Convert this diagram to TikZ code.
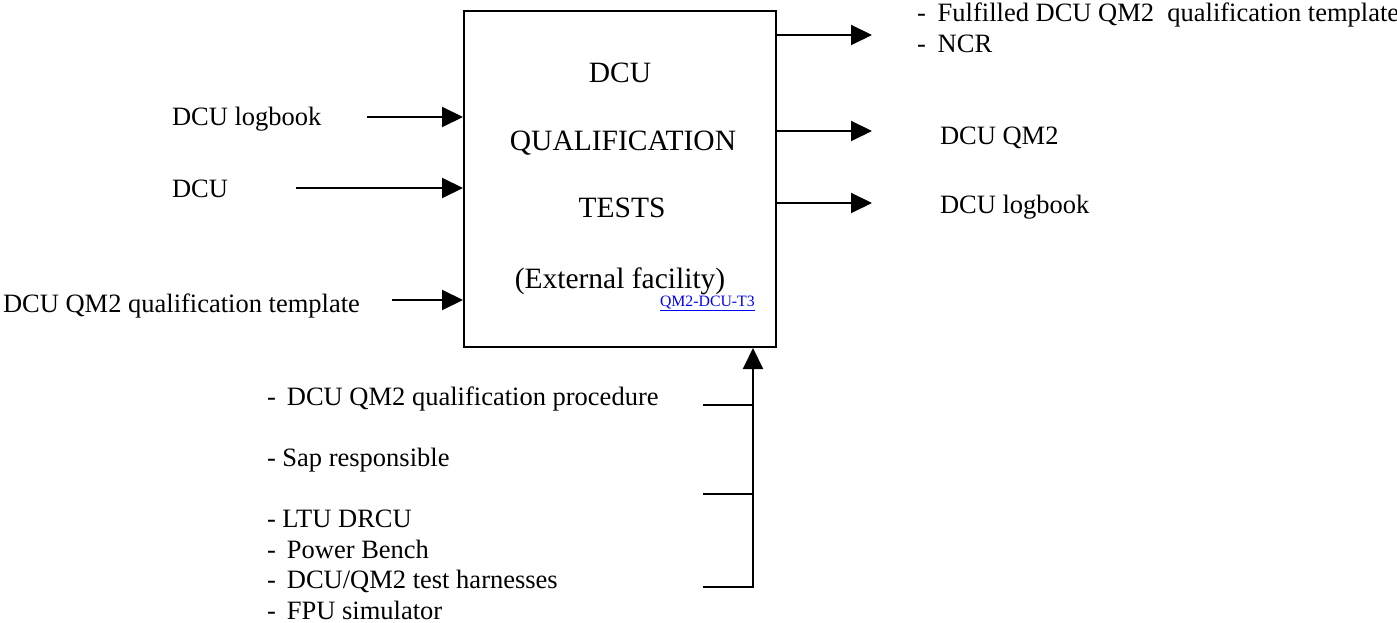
\documentclass[tikz,border=0pt]{standalone}
\usepackage{fontspec}
\setmainfont{Liberation Serif}
\usetikzlibrary{arrows.meta,calc}
\definecolor{linkblue}{RGB}{0,0,255}
\begin{document}
\begin{tikzpicture}[x=1pt,y=-1pt,
  every node/.style={inner sep=0pt,outer sep=0pt},
  lbl/.style={anchor=base west,font=\fontsize{26.5}{30.5}\selectfont},
  boxtxt/.style={anchor=base,font=\fontsize{29.5}{34}\selectfont},
  arr/.style={line width=2pt,-{Triangle[length=21pt,width=20pt]}},
  ln/.style={line width=2pt},
  process/.style={draw,line width=2pt,minimum width=312pt,minimum height=336pt,outer sep=1pt}]
\useasboundingbox (0,0) rectangle (1397,623);

% central activity box
\node[process] (box) at (620,179) {};
\node[boxtxt] (t1) at (620,83) {DCU};
\node[boxtxt] (t2) at (623,150) {QUALIFICATION};
\node[boxtxt] (t3) at (622,217) {TESTS};
\node[boxtxt] (t4) at (620,288) {(External facility)};
\node[anchor=base west,font=\fontsize{15.8}{18}\selectfont,text=linkblue] (ref) at (660,306)
  {\underline{QM2-DCU-T3}};

% inputs on the left
\node[lbl] (in1) at (172,126) {DCU logbook};
\node[lbl] (in2) at (172,197) {DCU};
\node[lbl] (in3) at (3,312) {DCU QM2 qualification template};
\coordinate (s1) at (367,117);
\coordinate (s2) at (296,188);
\coordinate (s3) at (392,300);
\draw[arr] (s1) -- (s1 -| box.west);
\draw[arr] (s2) -- (s2 -| box.west);
\draw[arr] (s3) -- (s3 -| box.west);

% outputs on the right
\coordinate (e1) at (872,35);
\coordinate (e2) at (872,131);
\coordinate (e3) at (872,203);
\draw[arr] (e1 -| box.east) -- (e1);
\draw[arr] (e2 -| box.east) -- (e2);
\draw[arr] (e3 -| box.east) -- (e3);
\node[lbl] (out1a) at (917,21.5) {-\hspace{0.45em}Fulfilled DCU QM2\ \ qualification template};
\node[lbl] (out1b) at (917,52.5) {-\hspace{0.45em}NCR};
\node[lbl] (out2) at (940,144) {DCU QM2};
\node[lbl] (out3) at (940,213) {DCU logbook};

% mechanisms below
\node[lbl] (m1) at (267,405) {-\hspace{0.42em}DCU QM2 qualification procedure};
\node[lbl] (m2) at (267,466) {- Sap responsible};
\node[lbl] (m3) at (267,527.5) {- LTU DRCU};
\node[lbl] (m4) at (267,558) {-\hspace{0.42em}Power Bench};
\node[lbl] (m5) at (267,588.5) {-\hspace{0.42em}DCU/QM2 test harnesses};
\node[lbl] (m6) at (267,619) {-\hspace{0.42em}FPU simulator};
\coordinate (tap) at ($(box.south east)+(-24,0)$);
\coordinate (b1) at (703,405);
\coordinate (b2) at (703,494);
\coordinate (b3) at (703,587);
\draw[arr] (b3) -- (b3 -| tap) -- (tap);
\draw[ln] (b1) -- (b1 -| tap);
\draw[ln] (b2) -- (b2 -| tap);
\end{tikzpicture}
\end{document}
